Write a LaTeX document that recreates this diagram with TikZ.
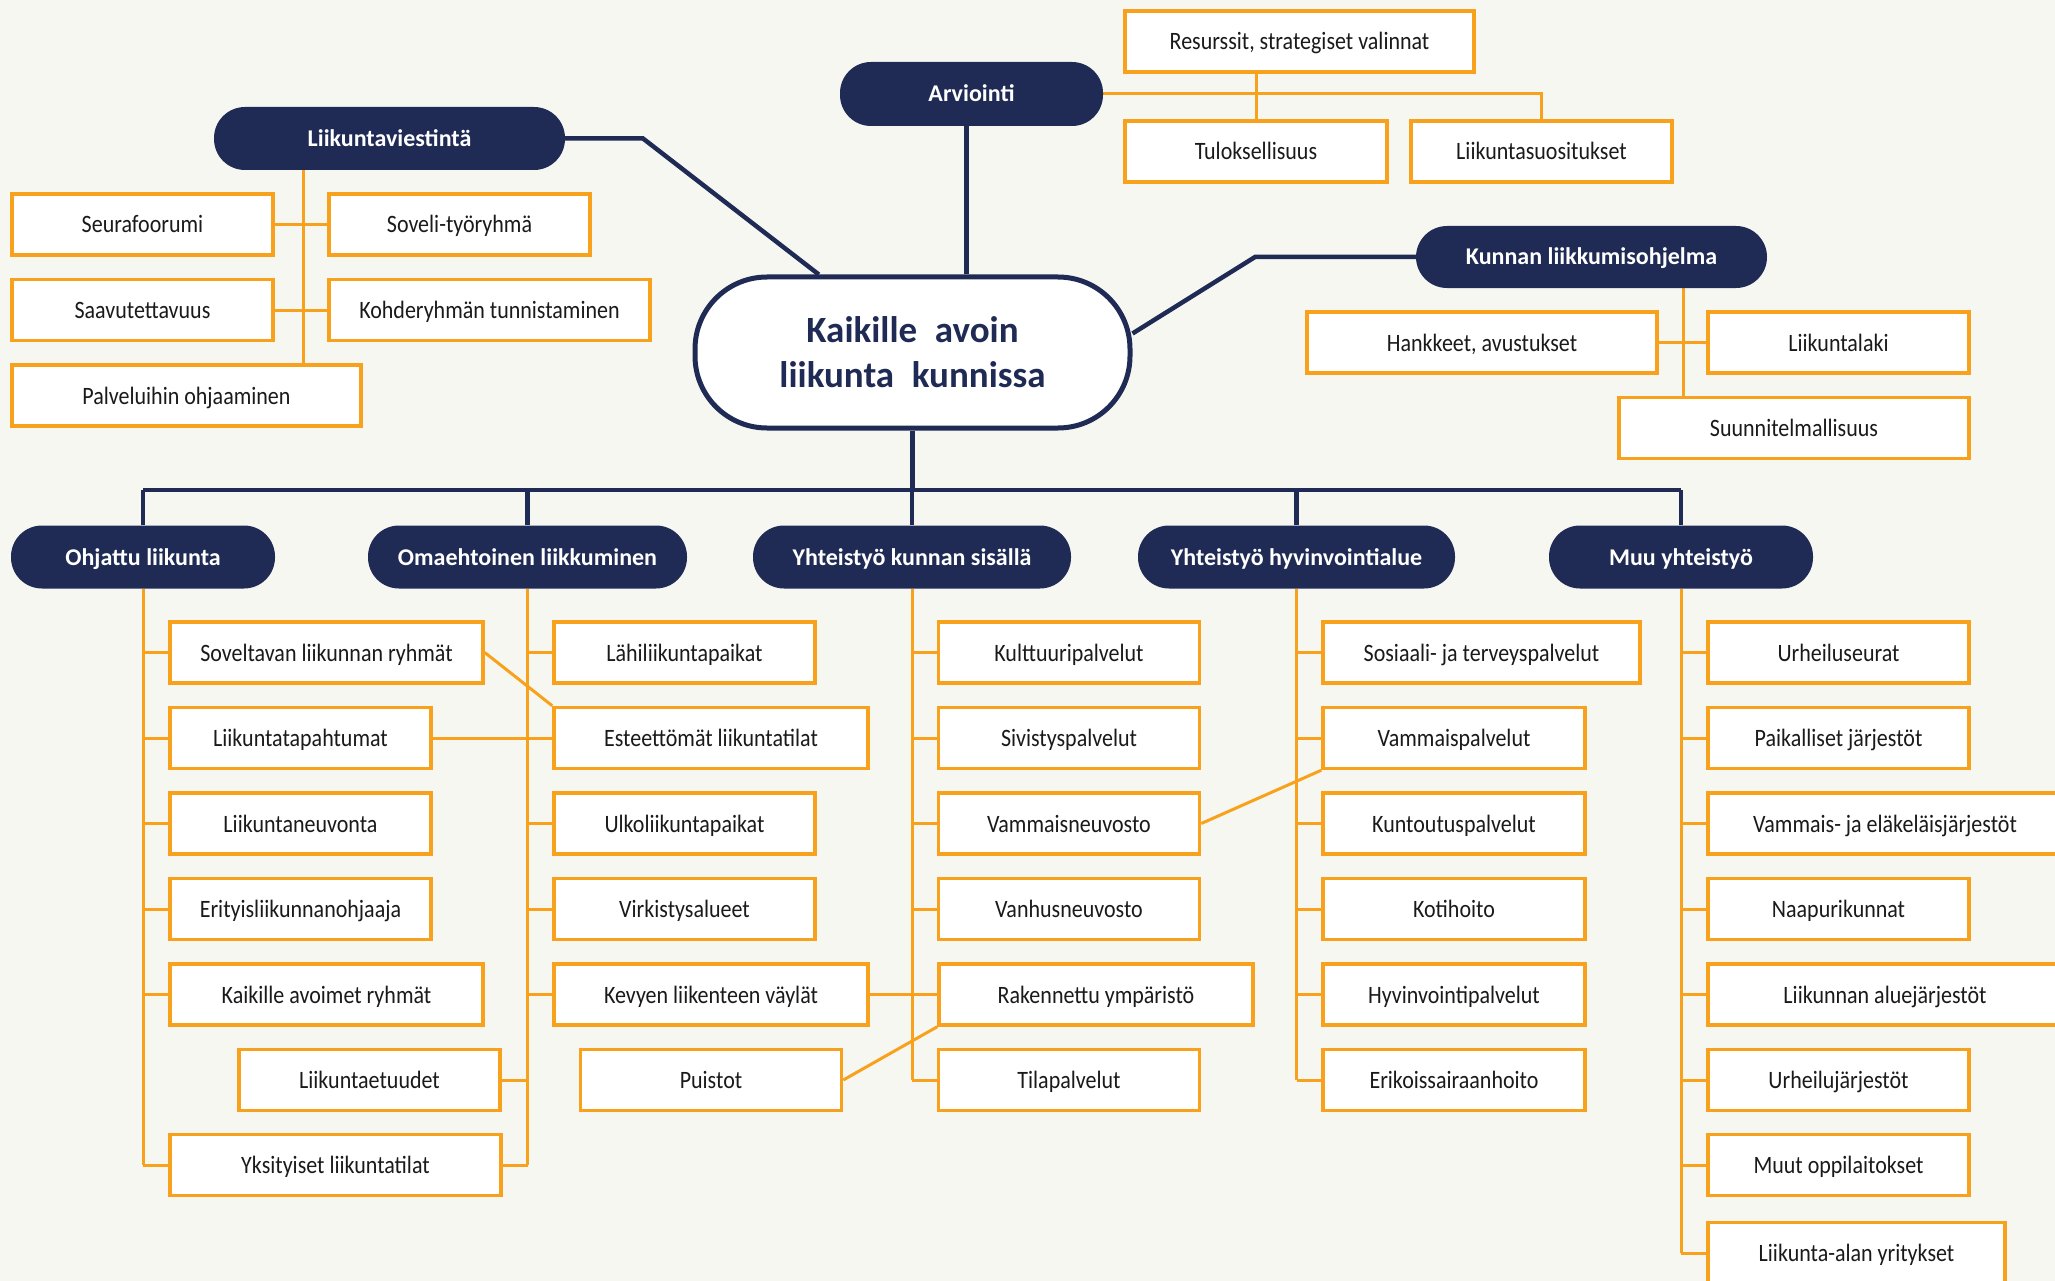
\documentclass[tikz,border=0pt]{standalone}
\usepackage{fontspec}
\setmainfont{Carlito}
\newfontfamily\bodyfont[FakeStretch=0.88]{Carlito}
\usetikzlibrary{calc}
\definecolor{navy}{HTML}{1F2B55}
\definecolor{orng}{HTML}{F8A11C}
\definecolor{bgc}{HTML}{F7F7F2}
\definecolor{txt}{HTML}{1A1A1A}
\pgfdeclarelayer{back}
\pgfdeclarelayer{lines}
\pgfsetlayers{back,lines,main}
\begin{document}
\begin{tikzpicture}[x=1pt,y=-1pt,
  leaf/.style={draw=orng, line width=3.5pt, fill=white, minimum height=61pt, inner sep=0pt, text height=21pt, text depth=4pt, font=\bodyfont\fontsize{25}{28}\selectfont, text=txt},
  pill/.style={fill=navy, rounded corners=31pt, minimum height=63pt, inner sep=0pt, text height=20pt, text depth=4pt, text=white, font=\bfseries\fontsize{24}{28}\selectfont},
  navyline/.style={draw=navy, line width=4.5pt},
  oline/.style={draw=orng, line width=3pt},
]
\useasboundingbox (0,0) rectangle (2055,1281);
\begin{pgfonlayer}{back}
\fill[bgc] (0,0) rectangle (2055,1281);
\end{pgfonlayer}

% centre
\node[draw=navy, line width=5pt, fill=white, rounded corners=72pt, minimum width=435pt, minimum height=151pt, align=center, text=navy, font=\bfseries\fontsize{37}{45}\selectfont] (cen) at (912.5,352.5) {Kaikille\hspace{0.25em} avoin\\liikunta\hspace{0.25em} kunnissa};

% top-left group
\node[pill, minimum width=351pt] (lv) at (389.5,138.5) {Liikuntaviestintä};
\node[leaf, minimum width=261pt] (seura) at (142.5,224.5) {Seurafoorumi};
\node[leaf, minimum width=261pt] (soveli) at (459.5,224.5) {Soveli-työryhmä};
\node[leaf, minimum width=261pt] (saav) at (142.5,310) {Saavutettavuus};
\node[leaf, minimum width=321pt] (kohde) at (489.5,310) {Kohderyhmän tunnistaminen};
\node[leaf, minimum width=349pt] (palv) at (186.5,395.5) {Palveluihin ohjaaminen};

% arviointi group
\node[pill, minimum width=263pt, minimum height=64pt] (arv) at (971.5,94) {Arviointi};
\node[leaf, minimum width=349pt] (res) at (1299.5,41.5) {Resurssit, strategiset valinnat};
\node[leaf, minimum width=262pt] (tulos) at (1256,151.5) {Tuloksellisuus};
\node[leaf, minimum width=261pt] (suos) at (1541.5,151.5) {Liikuntasuositukset};

% kunnan group
\node[pill, minimum width=351pt, minimum height=62pt] (kun) at (1591.5,257) {Kunnan liikkumisohjelma};
\node[leaf, minimum width=350pt] (hank) at (1482,342.5) {Hankkeet, avustukset};
\node[leaf, minimum width=261pt] (laki) at (1838.5,342.5) {Liikuntalaki};
\node[leaf, minimum width=350pt] (suun) at (1794,428) {Suunnitelmallisuus};

% categories
\node[pill, minimum width=264pt] (oh) at (143,557) {Ohjattu liikunta};
\node[pill, minimum width=319pt] (om) at (527.5,557) {Omaehtoinen liikkuminen};
\node[pill, minimum width=318pt] (yk) at (912,557) {Yhteistyö kunnan sisällä};
\node[pill, minimum width=317pt] (yh) at (1296.5,557) {Yhteistyö hyvinvointialue};
\node[pill, minimum width=264pt] (mu) at (1681,557) {Muu yhteistyö};

% Ohjattu
\node[leaf, minimum width=313pt] (s1) at (326.5,652.5) {Soveltavan liikunnan ryhmät};
\node[leaf, minimum width=261pt] (s2) at (300.5,738) {Liikuntatapahtumat};
\node[leaf, minimum width=261pt] (s3) at (300.5,823.5) {Liikuntaneuvonta};
\node[leaf, minimum width=261pt] (s4) at (300.5,909) {Erityisliikunnanohjaaja};
\node[leaf, minimum width=313pt] (s5) at (326.5,994.5) {Kaikille avoimet ryhmät};
\node[leaf, minimum width=261pt] (s6) at (369.5,1080) {Liikuntaetuudet};
\node[leaf, minimum width=331pt] (s7) at (335.5,1165) {Yksityiset liikuntatilat};

% Omaehtoinen
\node[leaf, minimum width=261pt] (o1) at (684.5,652.5) {Lähiliikuntapaikat};
\node[leaf, minimum width=314pt] (o2) at (711,738) {Esteettömät liikuntatilat};
\node[leaf, minimum width=261pt] (o3) at (684.5,823.5) {Ulkoliikuntapaikat};
\node[leaf, minimum width=261pt] (o4) at (684.5,909) {Virkistysalueet};
\node[leaf, minimum width=314pt] (o5) at (711,994.5) {Kevyen liikenteen väylät};
\node[leaf, minimum width=261pt] (p) at (711,1080) {Puistot};

% Yhteistyö kunnan sisällä
\node[leaf, minimum width=261pt] (k1) at (1069,652.5) {Kulttuuripalvelut};
\node[leaf, minimum width=261pt] (k2) at (1069,738) {Sivistyspalvelut};
\node[leaf, minimum width=261pt] (k3) at (1069,823.5) {Vammaisneuvosto};
\node[leaf, minimum width=261pt] (k4) at (1069,909) {Vanhusneuvosto};
\node[leaf, minimum width=314pt] (k5) at (1096,994.5) {Rakennettu ympäristö};
\node[leaf, minimum width=261pt] (k6) at (1069,1080) {Tilapalvelut};

% Yhteistyö hyvinvointialue
\node[leaf, minimum width=317pt] (h1) at (1481.5,652.5) {Sosiaali- ja terveyspalvelut};
\node[leaf, minimum width=262pt] (h2) at (1454,738) {Vammaispalvelut};
\node[leaf, minimum width=262pt] (h3) at (1454,823.5) {Kuntoutuspalvelut};
\node[leaf, minimum width=262pt] (h4) at (1454,909) {Kotihoito};
\node[leaf, minimum width=262pt] (h5) at (1454,994.5) {Hyvinvointipalvelut};
\node[leaf, minimum width=262pt] (h6) at (1454,1080) {Erikoissairaanhoito};

% Muu yhteistyö
\node[leaf, minimum width=261pt] (m1) at (1838.5,652.5) {Urheiluseurat};
\node[leaf, minimum width=261pt] (m2) at (1838.5,738) {Paikalliset järjestöt};
\node[leaf, minimum width=354pt] (m3) at (1885,823.5) {Vammais- ja eläkeläisjärjestöt};
\node[leaf, minimum width=261pt] (m4) at (1838.5,909) {Naapurikunnat};
\node[leaf, minimum width=354pt] (m5) at (1885,994.5) {Liikunnan aluejärjestöt};
\node[leaf, minimum width=261pt] (m6) at (1838.5,1080) {Urheilujärjestöt};
\node[leaf, minimum width=261pt] (m7) at (1838.5,1165) {Muut oppilaitokset};
\node[leaf, minimum width=297pt] (m8) at (1856.5,1253) {Liikunta-alan yritykset};

\coordinate (lvk) at (643,138.5);
\coordinate (kk) at (1255,257);
\coordinate (bus) at (912,490);
\coordinate (lt) at (303,0);
\coordinate (kt) at (1683,0);

\begin{pgfonlayer}{lines}
% navy connectors
\draw[navyline] (lv.east) -- (lvk) -- ($(cen.north west)!0.287!(cen.north east)$);
\draw[navyline] ([xshift=-5pt]arv.south) -- ([xshift=-5pt]arv.south |- cen.north);
\draw[navyline] ([yshift=19pt]cen.east) -- (kk) -- (kun.west);
\draw[navyline] (cen.south) -- (cen.south |- bus);
\draw[navyline] (oh.north |- bus) -- (mu.north |- bus);
\foreach \c in {oh,om,yk,yh,mu} \draw[navyline] (\c.north |- bus) -- (\c.north);

% orange: top-left
\draw[oline] (lv.south -| lt) -- (palv.north -| lt);
\draw[oline] (seura.east) -- (soveli.west);
\draw[oline] (saav.east) -- (kohde.west);
% arviointi
\draw[oline] (arv.east) -- (arv.east -| suos.north) -- (suos.north);
\draw[oline] (tulos.north) -- (tulos.north |- res.south);
% kunnan
\draw[oline] (kun.south -| kt) -- (suun.north -| kt);
\draw[oline] (hank.east) -- (laki.west);

% ohjattu
\draw[oline] (oh.south) -- (oh.south |- s7.west);
\foreach \n in {s1,s2,s3,s4,s5,s7} \draw[oline] (oh.south |- \n.west) -- (\n.west);
% omaehtoinen
\draw[oline] (om.south) -- (om.south |- s7.east);
\foreach \n in {o1,o2,o3,o4,o5} \draw[oline] (om.south |- \n.west) -- (\n.west);
\draw[oline] (s6.east) -- (om.south |- s6.east);
\draw[oline] (s7.east) -- (om.south |- s7.east);
\draw[oline] (s1.east) -- (o2.north west);
\draw[oline] (s2.east) -- (o2.west);
% yhteistyo kunnan
\draw[oline] (yk.south) -- (yk.south |- k6.west);
\foreach \n in {k1,k2,k3,k4,k5,k6} \draw[oline] (yk.south |- \n.west) -- (\n.west);
\draw[oline] (o5.east) -- (k5.west);
\draw[oline] (p.east) -- (k5.south west);
\draw[oline] (k3.east) -- (h2.south west);
% hyvinvointialue
\draw[oline] (yh.south) -- (yh.south |- h6.west);
\foreach \n in {h1,h2,h3,h4,h5,h6} \draw[oline] (yh.south |- \n.west) -- (\n.west);
% muu
\draw[oline] (mu.south) -- (mu.south |- m8.west);
\foreach \n in {m1,m2,m3,m4,m5,m6,m7,m8} \draw[oline] (mu.south |- \n.west) -- (\n.west);
\end{pgfonlayer}
\end{tikzpicture}
\end{document}
